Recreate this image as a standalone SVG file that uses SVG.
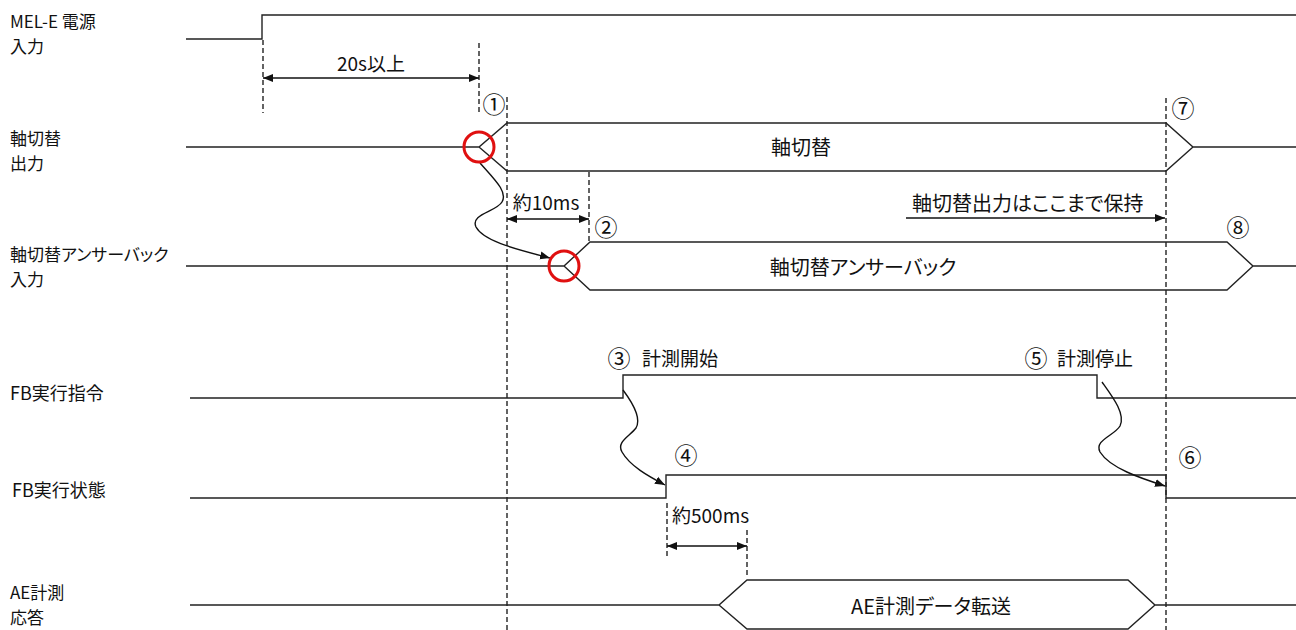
<svg xmlns="http://www.w3.org/2000/svg" width="1296" height="630" viewBox="0 0 1296 630">
<style>
text{font-family:"Noto Sans CJK JP","Noto Sans",sans-serif;font-size:18px;fill:#111;font-feature-settings:"palt"}
.lbl{font-size:17px}
.big{font-size:19px}
.bus{font-size:20px;text-anchor:middle}
.num{font-size:23px;text-anchor:middle;font-feature-settings:normal}
.sig{fill:none;stroke:#222;stroke-width:1.4}
.dash{fill:none;stroke:#222;stroke-width:1.4;stroke-dasharray:5,3}
.arr{fill:none;stroke:#111;stroke-width:1.4}
.mid{text-anchor:middle}
.red{fill:none;stroke:#e01010;stroke-width:3}
</style>
<defs>
<marker id="ah" viewBox="0 0 10 10" refX="10" refY="5" markerWidth="10" markerHeight="10" markerUnits="userSpaceOnUse" orient="auto-start-reverse">
<path d="M0,1 L10,5 L0,9 Z" fill="#111"/>
</marker>
</defs>
<rect width="1296" height="630" fill="#fff"/>

<g id="labels">
<text class="lbl" x="10" y="28">MEL-E 電源</text>
<text class="lbl" x="10" y="53">入力</text>
<text class="lbl" x="10" y="145">軸切替</text>
<text class="lbl" x="10" y="170">出力</text>
<text class="lbl" x="10" y="261">軸切替アンサーバック</text>
<text class="lbl" x="10" y="286">入力</text>
<text x="10" y="400">FB実行指令</text>
<text x="12" y="497">FB実行状態</text>
<text class="lbl" x="10" y="599">AE計測</text>
<text class="lbl" x="10" y="624">応答</text>
</g>

<g id="sig-power">
<path class="sig" d="M186,39 H262 V15 H1296"/>
</g>
<g id="sig-axis">
<path class="sig" d="M186,147 H479 L507,123 H1166 L1193,147 H1296 M479,147 L507,171 H1166 L1193,147"/>
<text class="bus" x="801" y="155">軸切替</text>
</g>
<g id="sig-answer">
<path class="sig" d="M186,266 H564 L590,242 H1227 L1253,266 H1296 M564,266 L590,290 H1227 L1253,266"/>
<text class="bus" x="863" y="275">軸切替アンサーバック</text>
</g>
<g id="sig-fbcmd">
<path class="sig" d="M190,398 H623 V375 H1097 V398 H1296"/>
</g>
<g id="sig-fbstate">
<path class="sig" d="M190,498 H666 V475 H1166 V498 H1296"/>
</g>
<g id="sig-ae">
<path class="sig" d="M190,605 H719 L747,580 H1128 L1155,605 H1296 M719,605 L747,629 H1128 L1155,605"/>
<text class="bus" x="931" y="614">AE計測データ転送</text>
</g>

<g id="connectors">
<path class="dash" d="M263,40 V113"/>
<path class="dash" d="M479,43 V113"/>
<path class="dash" d="M507,97 V630"/>
<path class="dash" d="M589,172 V242"/>
<path class="dash" d="M1166,98 V630"/>
<path class="dash" d="M667,503 V556"/>
<path class="dash" d="M747,530 V578"/>
<path class="arr" d="M263,78 H479" marker-start="url(#ah)" marker-end="url(#ah)"/>
<path class="arr" d="M507,219 H589" marker-start="url(#ah)" marker-end="url(#ah)"/>
<path class="arr" d="M906,218 H1165" marker-end="url(#ah)"/>
<path class="arr" d="M667,546 H747" marker-start="url(#ah)" marker-end="url(#ah)"/>
<path class="arr" d="M480,163 C495,180 508,192 502,202 C496,212 470,214 476,227 C484,242 520,250 550,258" marker-end="url(#ah)"/>
<path class="arr" d="M623,390 C632,402 642,418 636,428 C630,436 616,442 622,452 C630,466 648,476 665,485" marker-end="url(#ah)"/>
<path class="arr" d="M1102,382 C1112,396 1126,414 1120,426 C1114,436 1094,440 1100,452 C1110,468 1140,478 1165,486" marker-end="url(#ah)"/>
<circle class="red" cx="479" cy="147" r="15"/>
<circle class="red" cx="564" cy="266" r="15"/>
</g>

<g id="annotations">
<text class="mid big" x="371" y="71">20s以上</text>
<text class="num" x="494" y="113">①</text>
<text class="num" x="606" y="236">②</text>
<text class="num" x="619" y="367">③</text>
<text class="big" x="642" y="366">計測開始</text>
<text class="num" x="686" y="464">④</text>
<text class="num" x="1036" y="367">⑤</text>
<text class="big" x="1057" y="366">計測停止</text>
<text class="num" x="1190" y="466">⑥</text>
<text class="num" x="1183" y="117">⑦</text>
<text class="num" x="1238" y="236">⑧</text>
<text class="mid big" x="546" y="210">約10ms</text>
<text x="912" y="211" style="font-size:20px">軸切替出力はここまで保持</text>
<text class="big" x="672" y="523">約500ms</text>
</g>
</svg>
